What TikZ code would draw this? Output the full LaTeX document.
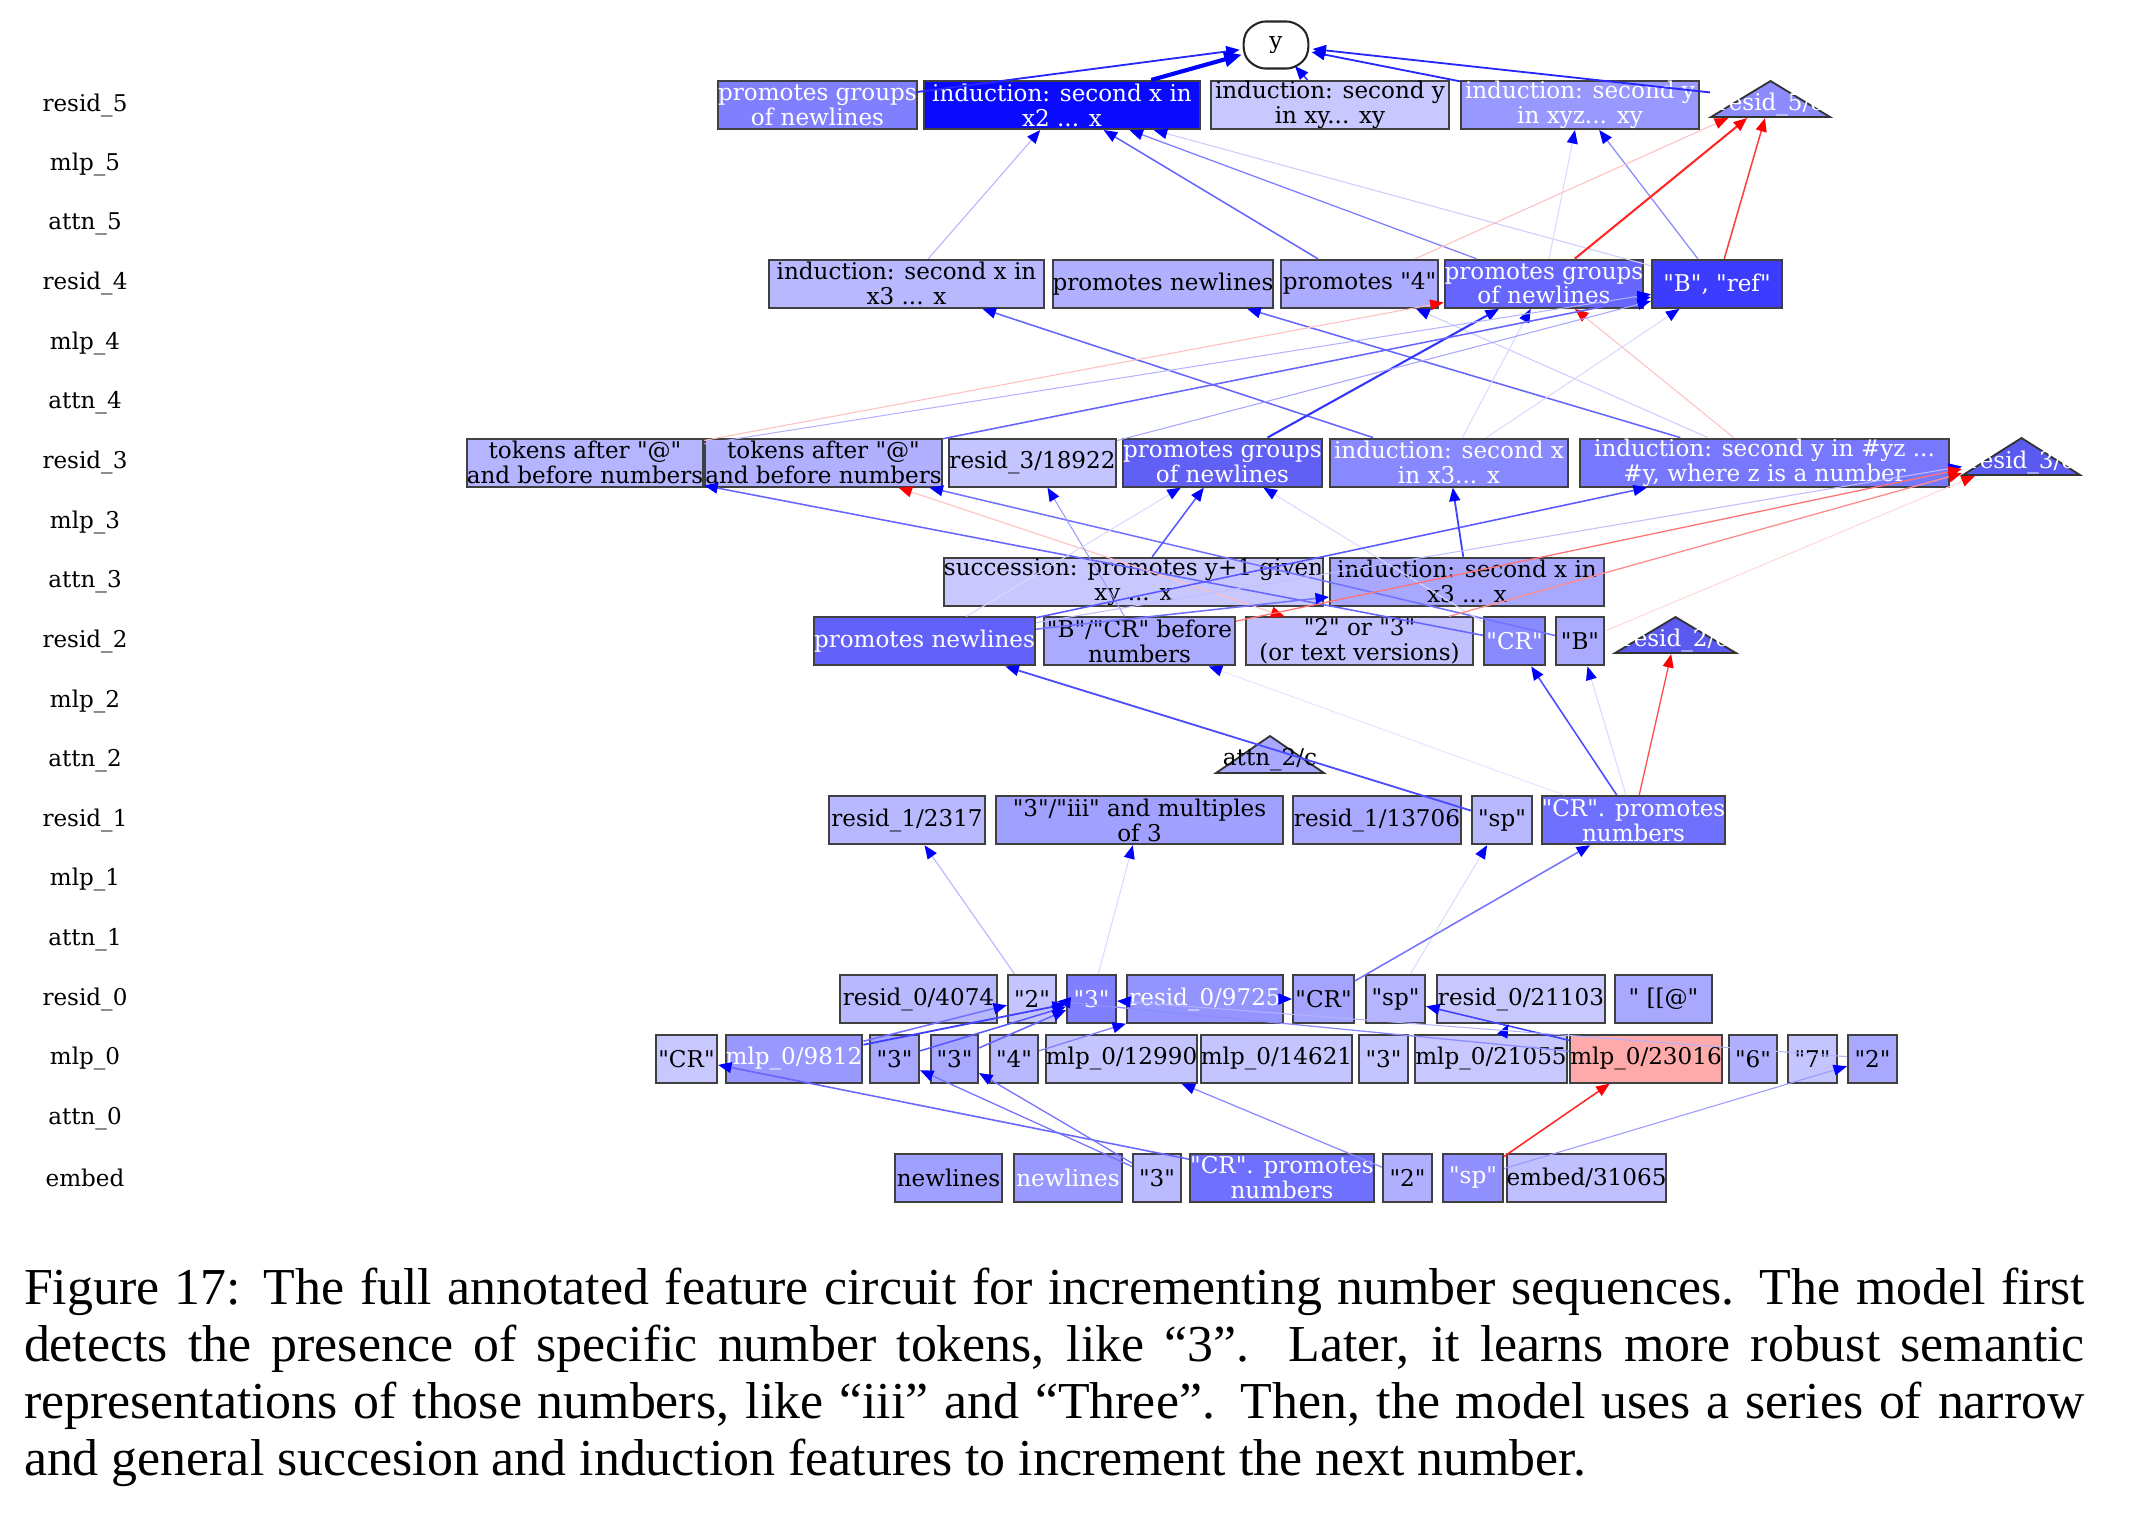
\documentclass[tikz,border=0pt]{standalone}
\usepackage{fontspec}
\setmainfont{Liberation Serif}
\newfontfamily\gserif{DejaVu Serif}
\usetikzlibrary{arrows.meta,shapes.geometric}
\newcommand\grf{\gserif\fontsize{4.45}{4.82}\selectfont}
\newcommand\gbx[7]{%
  \definecolor{fc#1}{HTML}{#5}%
  \node[gbox, fill=fc#1, text=#6, minimum width={(#3-#2)*0.1929pt}] (#1) at ({(#2+#3)/2},#4) {#7};}
\newcommand\gtri[8]{%
  \definecolor{fc#1}{HTML}{#6}%
  \path[draw=black!80, line width=0.35pt, fill=fc#1] (#2,#5) -- ({(#2+#3)/2},#4) -- (#3,#5) -- cycle;
  \node[inner sep=0pt, minimum width={(#3-#2)*0.1929pt}, minimum height={(#5-#4)*0.1929pt}] (#1) at ({(#2+#3)/2},{(#4+#5)/2}) {};
  \node[font=\grf, text=#7, inner sep=0pt] at ({(#2+#3)/2},{#5-13}) {#8};}
\begin{document}
\begin{tikzpicture}[x=0.1929pt, y=-0.1929pt,
  gbox/.style={draw=black!75, line width=0.4pt, minimum height=9.26pt, inner sep=0pt, align=center, font=\grf},
  eB/.style 2 args={draw=blue!#1, line width=#2pt, -{Triangle[length=2.6pt,width=2.1pt,color=blue]}},
  eR/.style 2 args={draw=red!#1, line width=#2pt, -{Triangle[length=2.6pt,width=2.1pt,color=red]}},
  lab/.style={font=\grf, inner sep=0pt}]
\useasboundingbox (0,0) rectangle (2136,1512);
% layer labels
\node[lab] (l0) at (85,105) {resid\_5};
\node[lab] (l1) at (85,164.6) {mlp\_5};
\node[lab] (l2) at (85,224.2) {attn\_5};
\node[lab] (l3) at (85,283.8) {resid\_4};
\node[lab] (l4) at (85,343.4) {mlp\_4};
\node[lab] (l5) at (85,403) {attn\_4};
\node[lab] (l6) at (85,462.6) {resid\_3};
\node[lab] (l7) at (85,522.2) {mlp\_3};
\node[lab] (l8) at (85,581.8) {attn\_3};
\node[lab] (l9) at (85,641.4) {resid\_2};
\node[lab] (l10) at (85,701) {mlp\_2};
\node[lab] (l11) at (85,760.6) {attn\_2};
\node[lab] (l12) at (85,820.2) {resid\_1};
\node[lab] (l13) at (85,879.8) {mlp\_1};
\node[lab] (l14) at (85,939.4) {attn\_1};
\node[lab] (l15) at (85,999) {resid\_0};
\node[lab] (l16) at (85,1058.6) {mlp\_0};
\node[lab] (l17) at (85,1118.2) {attn\_0};
\node[lab] (l18) at (85,1177.8) {embed};
% output node
\path[draw=black!85, fill=white, line width=0.4pt, rounded corners=2.6pt] (1240,45) -- (1252,21.5) -- (1300,21.5) -- (1312,45) -- (1300,68.5) -- (1252,68.5) -- cycle;
\node[ellipse, inner sep=0pt, minimum width=13.9pt, minimum height=9.1pt, font=\grf] (y) at (1276,45) {y};
% resid_5
\gbx{pg5}{722}{913}{105}{8080FF}{white}{promotes groups\\of newlines}
\gbx{ixtwo}{924}{1200}{105}{0A0AFF}{white}{induction: second x in\\x2 ... x}
\gbx{ixy}{1211}{1449}{105}{C8C8FF}{black}{induction: second y\\in xy... xy}
\gbx{ixyz}{1461}{1699}{105}{9898FF}{white}{induction: second y\\in xyz... xy}
\gtri{t5}{1711}{1830}{81}{117}{8C8CFF}{white}{resid\_5/c}
% resid_4
\gbx{ixa}{769}{1044}{283.8}{B8B8FF}{black}{induction: second x in\\x3 ... x}
\gbx{pnf}{1055}{1271}{283.8}{B0B0FF}{black}{promotes newlines}
\gbx{pf}{1281}{1438}{283.8}{ABABFF}{black}{promotes "4"}
\gbx{pgf}{1449}{1639}{283.8}{6666FF}{white}{promotes groups\\of newlines}
\gbx{bref}{1652}{1782}{283.8}{3C3CFF}{white}{"B", "ref"}
% resid_3
\gbx{tka}{472}{698}{462.6}{B4B4FF}{black}{tokens after "@"\\and before numbers}
\gbx{tkb}{710}{937}{462.6}{B0B0FF}{black}{tokens after "@"\\and before numbers}
\gbx{rthree}{949}{1116}{462.6}{C4C4FF}{black}{resid\_3/18922}
\gbx{pgt}{1127}{1318}{462.6}{6060F5}{white}{promotes groups\\of newlines}
\gbx{ixb}{1330}{1568}{462.6}{8888FF}{white}{induction: second x\\in x3... x}
\gbx{iyz}{1580}{1949}{462.6}{7878FF}{white}{induction: second y in \#yz ...\\\#y, where z is a number}
\gtri{t3}{1963}{2080}{438}{475}{5A5AF0}{white}{resid\_3/c}
% attn_3
\gbx{succ}{949}{1318}{581.8}{C8C8FF}{black}{succession: promotes y+1 given\\xy ... x}
\gbx{ixc}{1330}{1604}{581.8}{A8A8FF}{black}{induction: second x in\\x3 ... x}
% resid_2
\gbx{pnt}{816}{1033}{641.4}{6262FA}{white}{promotes newlines}
\gbx{bcr}{1044}{1235}{641.4}{AAAAFF}{black}{"B"/"CR" before\\numbers}
\gbx{twothree}{1246}{1473}{641.4}{C0C0FF}{black}{"2" or "3"\\(or text versions)}
\gbx{crt}{1484}{1545}{641.4}{8A8AFF}{white}{"CR"}
\gbx{bt}{1556}{1604}{641.4}{AAAAFF}{black}{"B"}
\gtri{t2}{1615}{1736}{617}{653}{5A5AF0}{white}{resid\_2/c}
% attn_2
\gtri{ta2}{1216}{1324}{736}{773}{A8A8FF}{black}{attn\_2/c}
% resid_1
\gbx{ra}{829}{985}{820.2}{B8B8FF}{black}{resid\_1/2317}
\gbx{iii}{996}{1283}{820.2}{A0A0FF}{black}{"3"/"iii" and multiples\\of 3}
\gbx{rb}{1293}{1461}{820.2}{A8A8FF}{black}{resid\_1/13706}
\gbx{spo}{1472}{1532}{820.2}{B8B8FF}{black}{"sp"}
\gbx{crp}{1544}{1723}{820.2}{7070FF}{white}{"CR". promotes\\numbers}
% resid_0
\gbx{zra}{840}{997}{999}{B8B8FF}{black}{resid\_0/4074}
\gbx{qtwo}{1008}{1056}{999}{C4C4FF}{black}{"2"}
\gbx{qthree}{1067}{1116}{999}{8080FF}{white}{"3"}
\gbx{zrb}{1127}{1283}{999}{9494FF}{white}{resid\_0/9725}
\gbx{crz}{1293}{1354}{999}{A4A4FF}{black}{"CR"}
\gbx{spz}{1366}{1425}{999}{B4B4FF}{black}{"sp"}
\gbx{zrc}{1437}{1605}{999}{C8C8FF}{black}{resid\_0/21103}
\gbx{atz}{1615}{1712}{999}{A8A8FF}{black}{" [[@"}
% mlp_0
\gbx{mcr}{656}{717}{1058.6}{C8C8FF}{black}{"CR"}
\gbx{ma}{729}{859}{1058.6}{9898FF}{white}{mlp\_0/9812}
\gbx{mthreea}{870}{919}{1058.6}{A8A8FF}{black}{"3"}
\gbx{mthreeb}{931}{978}{1058.6}{A8A8FF}{black}{"3"}
\gbx{mfour}{990}{1038}{1058.6}{B8B8FF}{black}{"4"}
\gbx{mb}{1050}{1193}{1058.6}{C4C4FF}{black}{mlp\_0/12990}
\gbx{mc}{1205}{1348}{1058.6}{C4C4FF}{black}{mlp\_0/14621}
\gbx{mthreec}{1359}{1408}{1058.6}{C4C4FF}{black}{"3"}
\gbx{md}{1420}{1562}{1058.6}{C8C8FF}{black}{mlp\_0/21055}
\gbx{me}{1575}{1717}{1058.6}{FFAAAA}{black}{mlp\_0/23016}
\gbx{msix}{1729}{1777}{1058.6}{B0B0FF}{black}{"6"}
\gbx{mseven}{1788}{1837}{1058.6}{C4C4FF}{black}{"7"}
\gbx{mtwo}{1848}{1897}{1058.6}{A8A8FF}{black}{"2"}
% embed
\gbx{ea}{895}{1002}{1177.8}{A0A0FF}{black}{newlines}
\gbx{eb}{1014}{1122}{1177.8}{9898FF}{white}{newlines}
\gbx{ethree}{1133}{1181}{1177.8}{BABAFF}{black}{"3"}
\gbx{ecr}{1193}{1371}{1177.8}{7070FF}{white}{"CR". promotes\\numbers}
\gbx{etwo}{1383}{1432}{1177.8}{B0B0FF}{black}{"2"}
\gbx{esp}{1443}{1503}{1177.8}{9090FF}{white}{"sp"}
\gbx{ef}{1515}{1658}{1177.8}{C0C0FF}{black}{embed/31065}
% ---------- edges ----------
\draw[eB={85}{.35}] (pg5) -- (y);
\draw[draw=blue, line width=0.8pt, -{Triangle[length=3.4pt,width=2.8pt,color=blue]}] (ixtwo) -- (y);
\draw[eB={80}{.3}] (ixy) -- (y);
\draw[eB={85}{.35}] (ixyz) -- (y);
\draw[eB={85}{.35}] (t5) -- (y);
% resid_4 -> resid_5
\draw[eB={30}{.2}] (ixa) -- (ixtwo);
\draw[eB={60}{.3}] (pf) -- (ixtwo);
\draw[eB={50}{.25}] (pgf) -- (ixtwo);
\draw[eB={20}{.2}] (bref) -- (ixtwo);
\draw[eB={15}{.2}] (pgf) -- (ixyz);
\draw[eB={45}{.25}] (bref) -- (ixyz);
\draw[eR={85}{.4}] (pgf) -- (t5);
\draw[eR={75}{.3}] (bref) -- (t5);
\draw[eR={25}{.2}] (pf) -- (t5);
% resid_3 -> resid_4
\draw[eB={60}{.3}] (ixb) -- (ixa);
\draw[eB={60}{.3}] (iyz) -- (pnf);
\draw[eB={20}{.2}] (iyz) -- (pf);
\draw[eB={80}{.4}] (pgt) -- (pgf);
\draw[eB={15}{.2}] (ixb) -- (pgf);
\draw[eR={25}{.2}] (iyz) -- (pgf);
\draw[eR={25}{.2}] (tka) -- (pgf);
\draw[eB={30}{.2}] (tka) -- (bref);
\draw[eB={60}{.3}] (tkb) -- (bref);
\draw[eB={35}{.2}] (rthree) -- (bref);
\draw[eB={15}{.2}] (ixb) -- (bref);
% attn_3 / resid_2 -> resid_3
\draw[eB={60}{.3}] (crt) -- (tka);
\draw[eB={55}{.3}] (bt) -- (tkb);
\draw[draw=red!25, line width=0.2pt, {Triangle[length=2.6pt,width=2.1pt,color=red]}-{Triangle[length=2.6pt,width=2.1pt,color=red]}] (twothree) -- (tkb);
\draw[eB={40}{.2}] (bcr) -- (rthree);
\draw[eB={65}{.3}] (succ) -- (pgt);
\draw[eB={15}{.2}] (pnt) -- (pgt);
\draw[eB={15}{.2}] (crt) -- (pgt);
\draw[eB={75}{.35}] (ixc) -- (ixb);
\draw[eB={65}{.3}] (pnt) -- (iyz);
\draw[eB={25}{.2}] (pnt) -- (t3);
\draw[eR={55}{.25}] (bcr) -- (t3);
\draw[eR={45}{.25}] (twothree) -- (t3);
\draw[eR={15}{.2}] (bt) -- (t3);
\draw[eB={55}{.3}] (pnt) -- (ixc);
% resid_1 -> resid_2
\draw[eB={70}{.3}] (crp) -- (crt);
\draw[eB={15}{.2}] (crp) -- (bt);
\draw[eR={70}{.25}] (crp) -- (t2);
\draw[eB={70}{.35}] (spo) -- (pnt);
\draw[eB={10}{.2}] (crp) -- (bcr);
% resid_0 -> resid_1
\draw[eB={30}{.2}] (qtwo) -- (ra);
\draw[eB={15}{.2}] (qthree) -- (iii);
\draw[eB={15}{.2}] (spz) -- (spo);
\draw[eB={55}{.3}] (crz) -- (crp);
% mlp_0 / embed -> resid_0
\draw[eB={60}{.3}] (ecr) -- (mcr);
\draw[eB={75}{.35}] (ma) -- (qthree);
\draw[eB={55}{.3}] (ma) -- (qtwo);
\draw[eB={65}{.3}] (mthreea) -- (qthree);
\draw[eB={60}{.3}] (mthreeb) -- (qthree);
\draw[eB={50}{.25}] (mfour) -- (zrb);
\draw[eB={70}{.3}] (zrb) -- (crz);
\draw[eB={45}{.25}] (me) -- (qtwo);
\draw[eB={75}{.3}] (me) -- (spz);
\draw[eB={75}{.3}] (md) -- (zrc);
\draw[eB={30}{.2}] (mtwo) -- (qthree);
\draw[eB={40}{.2}] (esp) -- (mtwo);
\draw[eR={85}{.3}] (esp) -- (me);
\draw[eB={45}{.25}] (etwo) -- (mb);
\draw[eB={55}{.25}] (ethree) -- (mthreea);
\draw[eB={55}{.25}] (ethree) -- (mthreeb);
% caption
\node[anchor=base west, inner sep=0pt, text width=397.5pt, align=justify, font=\fontsize{10}{11}\selectfont] (cap) at (23,1304) {Figure 17: The full annotated feature circuit for incrementing number sequences. The model first\linebreak detects the presence of specific number tokens, like “3”. Later, it learns more robust semantic\linebreak representations of those numbers, like “iii” and “Three”. Then, the model uses a series of narrow\linebreak and general succesion and induction features to increment the next number.};
\end{tikzpicture}
\end{document}
